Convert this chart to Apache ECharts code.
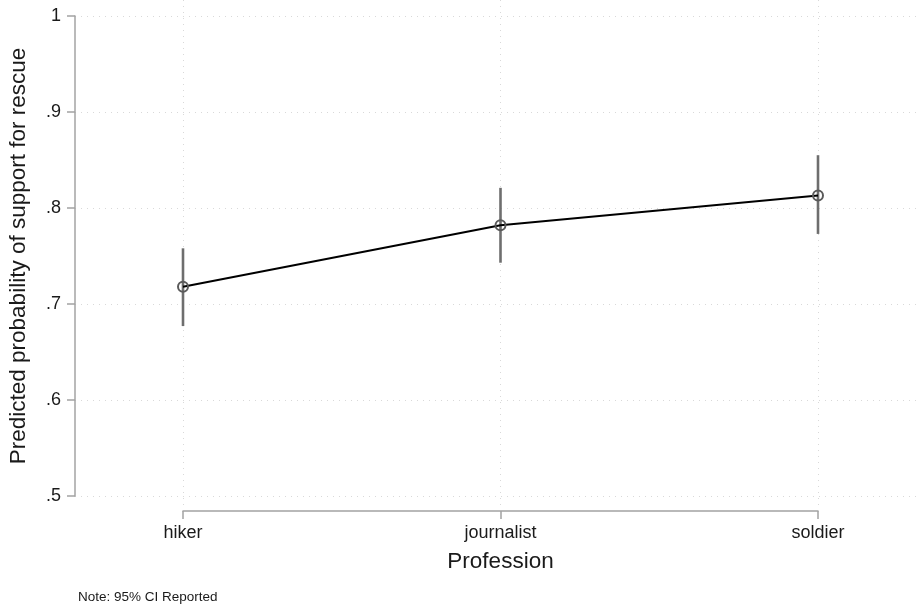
<!DOCTYPE html>
<html>
<head>
<meta charset="utf-8">
<title>Predicted probability of support for rescue</title>
<script src="https://cdn.jsdelivr.net/npm/echarts@6/dist/echarts.min.js"></script>
<style>
  html, body { margin: 0; padding: 0; background: #ffffff; }
  #chart { width: 920px; height: 605px; }
</style>
</head>
<body>
<div id="chart"></div>
<script>
// Professions on the x axis
const professions = ['hiker', 'journalist', 'soldier'];
// Predicted probabilities and 95% confidence bounds
const predicted = [0.718, 0.782, 0.813];
const ciLower = [0.677, 0.743, 0.773];
const ciUpper = [0.758, 0.821, 0.855];
// Y tick values
const yTicks = [0.5, 0.6, 0.7, 0.8, 0.9, 1];

const FONT = '"Liberation Sans", Arial, Helvetica, sans-serif';
const AXIS_GREY = '#a3a3a3';
const GRID_GREY = '#d9d9d9';

const chart = echarts.init(document.getElementById('chart'), null, { renderer: 'canvas' });

const ciData = professions.map((p, i) => [i, ciLower[i], ciUpper[i]]);

chart.setOption({
  animation: false,
  backgroundColor: '#ffffff',
  textStyle: { fontFamily: FONT },
  grid: [
    // y axis frame and horizontal grid lines
    { left: 75, right: 0, top: 16, bottom: 109, outerBoundsMode: 'none', containLabel: false },
    // data region with category positions
    { left: 183, right: 102, top: 0, bottom: 100, outerBoundsMode: 'none', containLabel: false }
  ],
  xAxis: [
    { gridIndex: 0, type: 'value', show: false, min: 0, max: 1 },
    {
      gridIndex: 1,
      type: 'category',
      data: professions,
      boundaryGap: false,
      offset: 6,
      axisLine: { show: true, lineStyle: { color: AXIS_GREY, width: 1.5 } },
      axisTick: { show: true, length: 8, alignWithLabel: true, lineStyle: { color: AXIS_GREY, width: 1.5 } },
      axisLabel: { color: '#1a1a1a', fontSize: 18, margin: 13, fontFamily: FONT },
      splitLine: { show: true, lineStyle: { color: GRID_GREY, type: [1, 5], width: 1 } },
      name: 'Profession',
      nameLocation: 'middle',
      nameGap: 39,
      nameTextStyle: { color: '#1a1a1a', fontSize: 22.5, fontFamily: FONT }
    }
  ],
  yAxis: [
    {
      gridIndex: 0,
      type: 'value',
      min: yTicks[0],
      max: yTicks[yTicks.length - 1],
      interval: 0.1,
      axisLine: { show: true, lineStyle: { color: AXIS_GREY, width: 1.5 } },
      axisTick: { show: true, length: 8, lineStyle: { color: AXIS_GREY, width: 1.5 } },
      axisLabel: {
        color: '#1a1a1a',
        fontSize: 18,
        margin: 14,
        fontFamily: FONT,
        formatter: v => {
          const t = yTicks.find(k => Math.abs(k - v) < 1e-9);
          if (t === undefined) return '';
          return t === 1 ? '1' : String(+t.toFixed(1)).replace(/^0/, '');
        }
      },
      splitLine: { show: true, lineStyle: { color: GRID_GREY, type: [1, 5], width: 1 } },
      name: 'Predicted probability of support for rescue',
      nameLocation: 'middle',
      nameGap: 45,
      nameRotate: 90,
      nameTextStyle: { color: '#1a1a1a', fontSize: 22.5, fontFamily: FONT }
    },
    {
      gridIndex: 1,
      type: 'value',
      show: false,
      // same scale as the framed axis, extended to the data region edges
      min: 0.5 - 9 / 960,
      max: 1 + 16 / 960,
      splitLine: { show: false }
    }
  ],
  series: [
    {
      name: '95% CI',
      type: 'custom',
      xAxisIndex: 1,
      yAxisIndex: 1,
      data: ciData,
      z: 2,
      renderItem: (params, api) => {
        const lo = api.coord([api.value(0), api.value(1)]);
        const hi = api.coord([api.value(0), api.value(2)]);
        return {
          type: 'line',
          shape: { x1: lo[0], y1: lo[1], x2: hi[0], y2: hi[1] },
          style: { stroke: '#6e6e6e', lineWidth: 2.6 }
        };
      }
    },
    {
      name: 'Predicted',
      type: 'line',
      xAxisIndex: 1,
      yAxisIndex: 1,
      data: predicted,
      z: 3,
      lineStyle: { color: '#000000', width: 2 },
      symbol: 'circle',
      symbolSize: 10,
      showAllSymbol: true,
      itemStyle: { color: 'rgba(255,255,255,0)', borderColor: '#5a5a5a', borderWidth: 2 }
    }
  ],
  graphic: [
    {
      type: 'text',
      left: 78,
      top: 590,
      style: { text: 'Note: 95% CI Reported', fill: '#1a1a1a', font: '13.5px ' + FONT }
    }
  ]
});
</script>
</body>
</html>
